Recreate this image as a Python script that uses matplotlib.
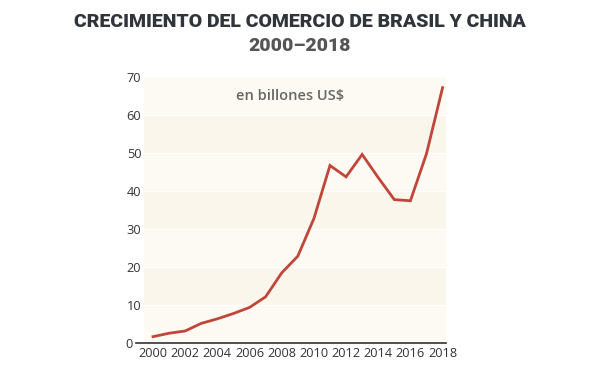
import matplotlib
matplotlib.use("Agg")
import matplotlib.pyplot as plt
from matplotlib.transforms import ScaledTranslation

years = list(range(2000, 2019))
trade = [1.6, 2.5, 3.1, 5.1, 6.3, 7.7, 9.3, 12.1, 18.4, 22.8, 32.7, 46.7, 43.7, 49.6, 43.5, 37.7, 37.4, 49.8, 67.2]
xticks = list(range(2000, 2019, 2))
yticks = list(range(0, 71, 10))

title = "CRECIMIENTO DEL COMERCIO DE BRASIL Y CHINA"
subtitle = "2000–2018"
unit = "en billones US$"

fig = plt.figure(figsize=(6, 3.65), dpi=100)
fig.patch.set_facecolor("white")
ax = fig.add_axes([0.24, 0.061, 0.503, 0.728])

band_colors = ["#fcfaf3", "#faf6eb"]
for i, lo in enumerate(yticks[:-1]):
    ax.axhspan(lo, lo + 10, color=band_colors[(len(yticks) - 2 - i) % 2], lw=0, zorder=0)
for y in yticks[1:-1]:
    ax.axhline(y, color="white", lw=1, zorder=1)

ax.plot(years, trade, color="#c0463a", lw=2.0, solid_joinstyle="miter", zorder=3)

ax.set_xlim(1999.44, 2018.2)
ax.set_ylim(0, 70)
ax.set_xticks(xticks)
ax.set_yticks(yticks)
ax.tick_params(axis="x", length=0, pad=3, labelsize=9.2, colors="#333333")
ax.tick_params(axis="y", length=0, pad=2, labelsize=9.2, colors="#333333")
for lbl in ax.get_xticklabels() + ax.get_yticklabels():
    lbl.set_fontfamily("Open Sans")
for s in ["top", "right", "left", "bottom"]:
    ax.spines[s].set_visible(False)
ax.plot([-0.025, 1.0], [0, 0], transform=ax.transAxes, color="#333333", lw=1.2,
        clip_on=False, zorder=4)
zero_lbl = ax.get_yticklabels()[0]
zero_lbl.set_transform(zero_lbl.get_transform() + ScaledTranslation(-6 / 72, 0, fig.dpi_scale_trans))

ax.text(0.485, 0.93, unit, transform=ax.transAxes, ha="center", va="center",
        fontsize=10.5, color="#666666", fontfamily="Open Sans", fontweight="semibold")

fig.text(0.5, 0.94, title, ha="center", va="center", fontsize=14,
         fontweight="black", color="#2f353b", fontfamily="Roboto")
fig.text(0.5, 0.873, subtitle, ha="center", va="center", fontsize=14,
         fontweight="black", color="#555555", fontfamily="Roboto")

fig.savefig("out.png", dpi=100, facecolor="white")
